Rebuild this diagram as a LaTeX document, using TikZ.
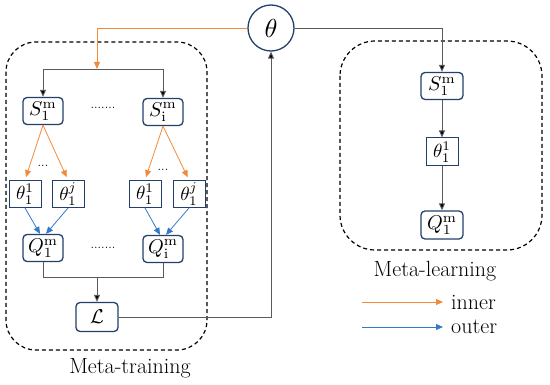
\documentclass[tikz,border=0pt]{standalone}
\usepackage{amsmath}
\usepackage{graphicx}
\usetikzlibrary{arrows.meta,calc}
\definecolor{navy}{HTML}{23406A}
\definecolor{lin}{HTML}{5A5A5A}
\definecolor{orng}{HTML}{F28A3A}
\definecolor{blu}{HTML}{3579C8}
\newcommand{\mth}[2]{\scalebox{#1}{$#2$}}
\tikzset{
  rbox/.style={draw=navy,line width=1.3pt,rounded corners=4pt,minimum width=40pt,minimum height=27pt,inner sep=0pt},
  sbox/.style={draw=navy,line width=1.0pt,minimum width=32pt,minimum height=27pt,inner sep=0pt},
  conn/.style={draw=lin,line width=0.9pt,-{Triangle[length=7pt,width=6pt,fill=black]}},
  plainline/.style={draw=lin,line width=0.9pt},
  innarr/.style={draw=orng,line width=0.8pt,-{Triangle[length=7pt,width=6pt,fill=orng]}},
  outarr/.style={draw=blu,line width=0.8pt,-{Triangle[length=7pt,width=6pt,fill=blu]}},
  grp/.style={draw=black,line width=1.2pt,dash pattern=on 4pt off 3pt},
  lbl/.style={font=\fontsize{22}{26}\selectfont},
  dts/.style={font=\fontsize{13}{15}\selectfont,inner sep=0pt}
}
\begin{document}
\begin{tikzpicture}[x=1pt,y=-1pt]
\useasboundingbox (0,0) rectangle (550,385);
% groups
\draw[grp,rounded corners=30pt] (6,42) rectangle (207,350);
\draw[grp,rounded corners=35pt] (340,41) rectangle (542,250);
% nodes
\node[circle,draw=navy,line width=1.3pt,minimum size=46pt,inner sep=0pt] (theta) at (271,28) {\mth{2.6}{\theta}};
\node[rbox] (S1) at (43,111) {\mth{2.0}{S_1^{\mathrm{m}}}};
\node[rbox] (Si) at (163,112) {\mth{2.0}{S_{\mathrm{i}}^{\mathrm{m}}}};
\node[sbox] (t11) at (25,194) {\mth{1.9}{\theta_1^1}};
\node[sbox] (t1j) at (68,194) {\mth{1.9}{\theta_1^j}};
\node[sbox] (t21) at (145,194) {\mth{1.9}{\theta_1^1}};
\node[sbox] (t2j) at (189,194) {\mth{1.9}{\theta_1^j}};
\node[rbox] (Q1) at (43,248) {\mth{2.0}{Q_1^{\mathrm{m}}}};
\node[rbox] (Qi) at (163,249) {\mth{2.0}{Q_{\mathrm{i}}^{\mathrm{m}}}};
\node[rbox,minimum width=42pt,minimum height=29pt] (L) at (97,317) {\mth{2.0}{\mathcal{L}}};
\node[rbox,minimum width=42pt] (RS) at (442,86) {\mth{2.0}{S_1^{\mathrm{m}}}};
\node[sbox,minimum height=28pt] (Rt) at (442,152) {\mth{1.9}{\theta_1^1}};
\node[rbox,minimum width=42pt,minimum height=28pt] (RQ) at (442,225) {\mth{2.0}{Q_1^{\mathrm{m}}}};
% dots
\node[dts] (d1) at (103,108) {.......};
\node[dts] (d2) at (43,166) {...};
\node[dts] (d3) at (163,170) {...};
\node[dts] (d4) at (103,248) {.......};
% labels
\node[lbl] (mt) at (130,368) {Meta-training};
\node[lbl] (ml) at (435,271) {Meta-learning};
% connectors
\coordinate (top) at (97,69);
\coordinate (qj) at (97,277);
\draw[innarr] (theta.west) -| (top);
\draw[conn] (top) -| (S1.north);
\draw[conn] (top) -| (Si.north);
\draw[innarr,shorten >=3pt] (S1.south) -- (t11.north);
\draw[innarr,shorten >=3pt] (S1.south) -- (t1j.north);
\draw[innarr,shorten >=3pt] (Si.south) -- (t21.north);
\draw[innarr,shorten >=3pt] (Si.south) -- (t2j.north);
\draw[outarr] (t11.south) -- ($(Q1.north)+(-3,0)$);
\draw[outarr] (t1j.south) -- ($(Q1.north)+(3,0)$);
\draw[outarr] (t21.south) -- ($(Qi.north)+(-3,0)$);
\draw[outarr] (t2j.south) -- ($(Qi.north)+(3,0)$);
\draw[plainline] (Q1.south) |- (qj);
\draw[plainline] (Qi.south) |- (qj);
\draw[conn] (qj) -- (L.north);
\draw[conn] (L.east) -| (theta.south);
\draw[conn] (theta.east) -| (RS.north);
\draw[conn] (RS) -- (Rt);
\draw[conn] (Rt) -- (RQ);
% legend
\node[lbl,anchor=west,inner sep=0pt] (inner) at (451,302) {inner};
\node[lbl,anchor=west,inner sep=0pt] (outer) at (451,327) {outer};
\coordinate (li) at (362,302);
\coordinate (lo) at (362,327);
\draw[innarr] (li) -- ($(inner.west)+(-8,0)$);
\draw[outarr] (lo) -- ($(outer.west)+(-8,0)$);
\end{tikzpicture}
\end{document}
